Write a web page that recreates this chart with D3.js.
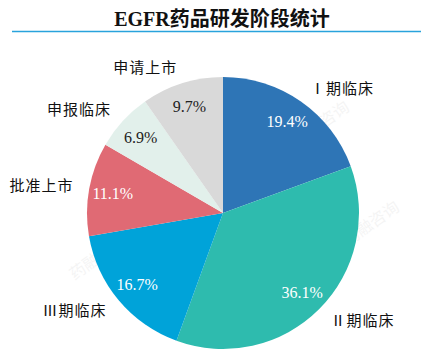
<!DOCTYPE html>
<html lang="en">
<head>
  <meta charset="UTF-8">
  <title>EGFR药品研发阶段统计</title>
  <script src="https://d3js.org/d3.v7.min.js"></script>
  <style>
    body { margin: 0; background: #fff; }
  </style>
</head>
<body>
  <svg id="pie"></svg>

  <script>
    // chart data
    const stages = ['Ⅰ期临床', 'Ⅱ期临床', 'Ⅲ期临床', '批准上市', '申报临床', '申请上市'];
    const shares = [19.4, 36.1, 16.7, 11.1, 6.9, 9.7];
    const sliceColors = ['#2E75B6', '#2EBBAE', '#00A3D9', '#E06A74', '#E2F0EB', '#D9D9D9'];
    const labelColors = ['#fff', '#fff', '#fff', '#fff', '#222', '#222'];

    const width = 438;
    const height = 353;
    const cx = 223, cy = 213, radius = 136;

    const svg = d3.select('#pie')
      .attr('width', width)
      .attr('height', height);

    // faint watermarks
    const marks = [[125, 245], [300, 145], [350, 245]];
    svg.append('g')
      .selectAll('text')
      .data(marks)
      .join('text')
      .attr('transform', d => `translate(${d[0]},${d[1]}) rotate(-35)`)
      .attr('text-anchor', 'middle')
      .style('font', '16px "Noto Sans CJK SC", sans-serif')
      .attr('fill', '#000')
      .attr('opacity', 0.04)
      .text('药融云 | 药融咨询');

    // title
    svg.append('text')
      .attr('x', 222)
      .attr('y', 26)
      .attr('text-anchor', 'middle')
      .style('font', 'bold 20px "Liberation Serif", "Noto Sans CJK SC", serif')
      .attr('fill', '#111')
      .text('EGFR药品研发阶段统计');

    svg.append('line')
      .attr('x1', 12).attr('x2', 421)
      .attr('y1', 31.5).attr('y2', 31.5)
      .attr('stroke', '#29A3DC')
      .attr('stroke-width', 1.5);

    const pie = d3.pie().sort(null).value(d => d);
    const arcs = pie(shares);

    const arc = d3.arc().innerRadius(0).outerRadius(radius);
    const inner = d3.arc().innerRadius(112).outerRadius(112);
    const outer = d3.arc().innerRadius(152).outerRadius(152);

    const g = svg.append('g').attr('transform', `translate(${cx},${cy})`);

    g.selectAll('path')
      .data(arcs)
      .join('path')
      .attr('d', arc)
      .attr('fill', (d, i) => sliceColors[i]);

    g.selectAll('text.pct')
      .data(arcs)
      .join('text')
      .attr('class', 'pct')
      .attr('transform', d => `translate(${inner.centroid(d)})`)
      .attr('dy', '0.35em')
      .attr('text-anchor', 'middle')
      .style('font', '16px "Liberation Serif", serif')
      .attr('fill', (d, i) => labelColors[i])
      .text(d => d.data.toFixed(1) + '%');

    g.selectAll('text.name')
      .data(arcs)
      .join('text')
      .attr('class', 'name')
      .attr('transform', d => `translate(${outer.centroid(d)})`)
      .attr('dy', '0.35em')
      .attr('text-anchor', d => (d.startAngle + d.endAngle) / 2 < Math.PI ? 'start' : 'end')
      .style('font', '15px "Noto Sans CJK SC", serif')
      .style('letter-spacing', '1px')
      .attr('fill', '#111')
      .text((d, i) => stages[i]);
  </script>
</body>
</html>
